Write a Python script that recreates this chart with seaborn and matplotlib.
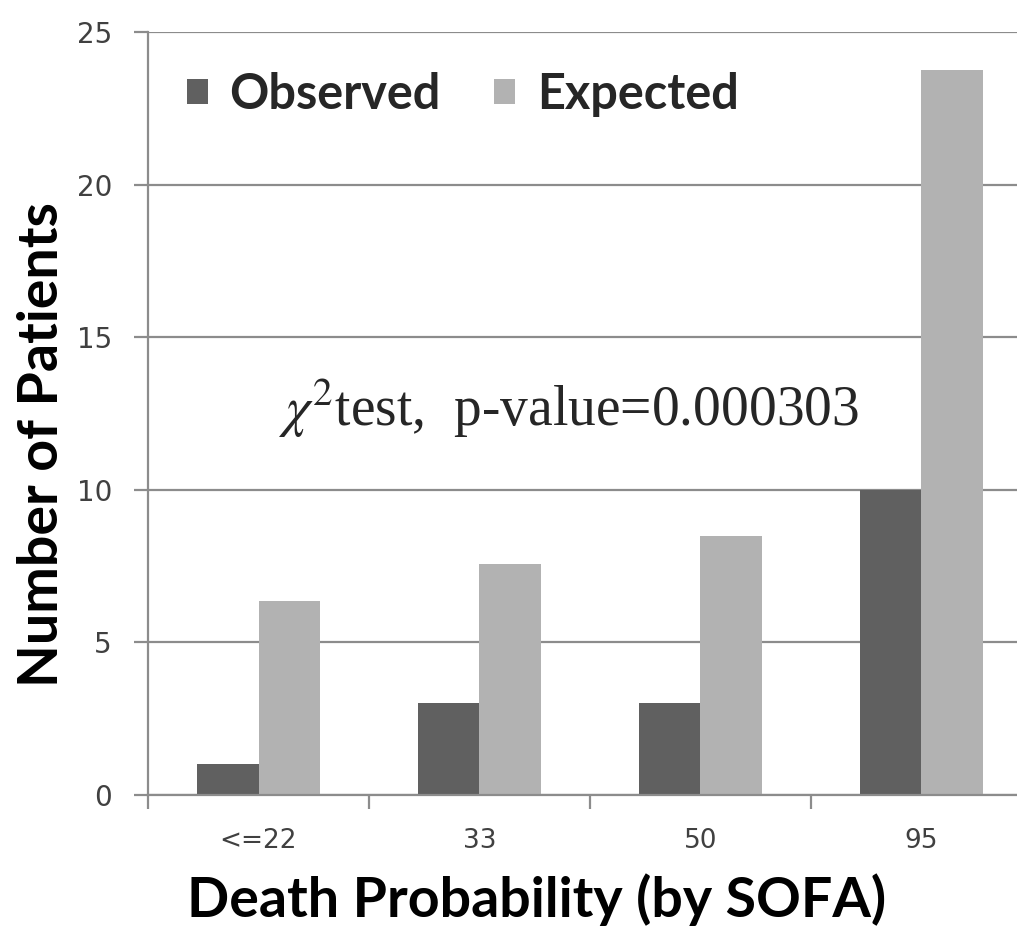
import matplotlib
matplotlib.use("Agg")
import matplotlib.pyplot as plt
from matplotlib.patches import Patch
import pandas as pd
import seaborn as sns

# Data
categories = ["<=22", "33", "50", "95"]
observed = [1, 3, 3, 10]
expected = [6.35, 7.58, 8.5, 23.75]
series = ["Observed", "Expected"]
colors = ["#606060", "#b2b2b2"]

df = pd.DataFrame({
    "category": categories * 2,
    "count": observed + expected,
    "series": ["Observed"] * 4 + ["Expected"] * 4,
})

sns.set_style("white")
plt.rcParams["font.family"] = ["DejaVu Sans"]
plt.rcParams["mathtext.fontset"] = "stix"

fig = plt.figure(figsize=(10.17, 9.27), dpi=100)
ax = fig.add_axes([148 / 1017, 132 / 927, 884 / 1017, 763 / 927])

sns.barplot(data=df, x="category", y="count", hue="series", order=categories,
            hue_order=series, palette=colors, width=0.56, gap=0,
            saturation=1, linewidth=0, ax=ax, legend=False)

grid_col = "#8c8c8c"
ax.set_ylim(0, 25)
ax.set_xlim(-0.5, 3.5)
ax.set_yticks([0, 5, 10, 15, 20, 25])
ax.yaxis.grid(True, color=grid_col, lw=1.6)
ax.set_axisbelow(True)

for side in ["top", "right"]:
    ax.spines[side].set_visible(False)
for side in ["left", "bottom"]:
    ax.spines[side].set_color(grid_col)
    ax.spines[side].set_linewidth(1.6)

# category separators as minor ticks on x
ax.set_xticks([-0.5, 0.5, 1.5, 2.5], minor=True)
ax.tick_params(axis="x", which="minor", bottom=True, length=10, width=1.6,
               color=grid_col, direction="out")
ax.tick_params(axis="x", which="major", bottom=True, length=0, pad=24,
               labelsize=19, labelcolor="#404040")
ax.tick_params(axis="y", left=True, length=10, width=1.6, color=grid_col, pad=16,
               labelsize=20, labelcolor="#404040")

ax.set_xlabel("Death Probability (by SOFA)", fontfamily="Lato", fontweight="bold",
              fontsize=40, color="black")
ax.xaxis.set_label_coords(0.44, -0.102)
ax.set_ylabel("Number of Patients", fontfamily="Lato", fontweight="bold",
              fontsize=40, color="black")
ax.yaxis.set_label_coords(-0.092, 0.459)

ax.text(0.147, 0.484, r"$\chi^{2}$test,  p-value=0.000303", transform=ax.transAxes,
        fontfamily="Liberation Serif", fontsize=40, va="baseline", ha="left")

handles = [Patch(facecolor=c, edgecolor="none") for c in colors]
ax.legend(handles, series, loc="upper left", bbox_to_anchor=(-0.005, 1.005), ncol=2,
          frameon=False, handlelength=0.42, handleheight=0.42, handletextpad=0.45,
          columnspacing=1.1, prop={"family": "Lato", "weight": "bold", "size": 35})

fig.savefig("out.png", dpi=100)
